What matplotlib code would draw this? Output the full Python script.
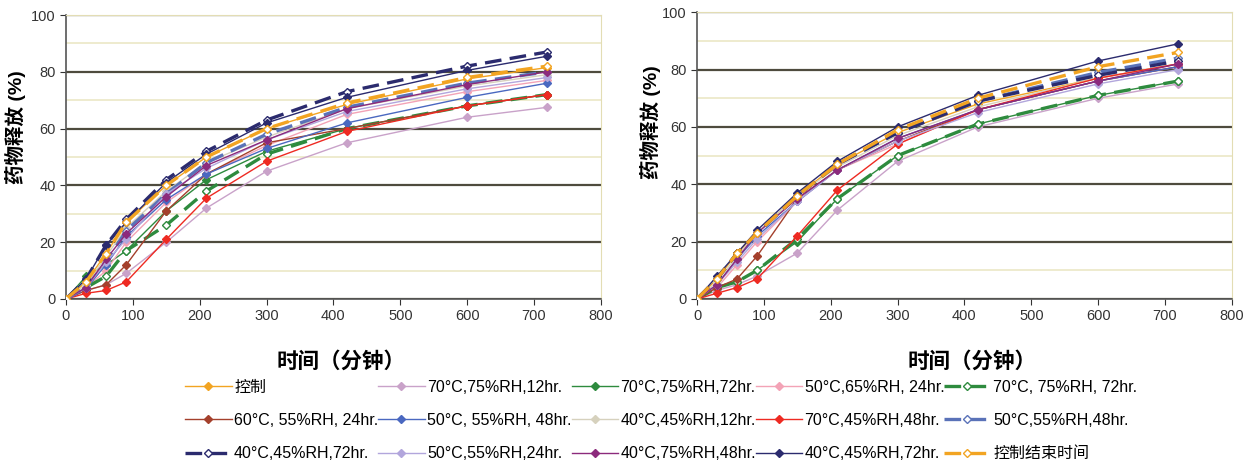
import numpy as np
import matplotlib
matplotlib.use("Agg")
import matplotlib.pyplot as plt
from matplotlib.ticker import MultipleLocator

plt.rcParams["font.family"] = ["Liberation Sans", "Noto Sans CJK SC"]

# ---------------------------------------------------------------------------
# Data: sampling times (min) and % drug released for each storage condition
# ---------------------------------------------------------------------------
times = [0, 30, 60, 90, 150, 210, 300, 420, 600, 720]

labels = [
    "控制",
    "70°C,75%RH,12hr.",
    "70°C,75%RH,72hr.",
    "50°C,65%RH, 24hr.",
    "70°C, 75%RH, 72hr.",
    "60°C, 55%RH, 24hr.",
    "50°C, 55%RH, 48hr.",
    "40°C,45%RH,12hr.",
    "70°C,45%RH,48hr.",
    "50°C,55%RH,48hr.",
    "40°C,45%RH,72hr.",
    "50°C,55%RH,24hr.",
    "40°C,75%RH,48hr.",
    "40°C,45%RH,72hr.",
    "控制结束时间",
]

left_values = [
    [0, 6, 16, 27, 40, 50, 60, 68.5, 77.5, 81.5],   # 控制
    [0, 3, 5, 9, 20, 32, 45, 55, 64, 67.5],          # 70/75/12
    [0, 8, 12, 17, 31, 42, 52, 60, 68, 72],          # 70/75/72
    [0, 4, 10, 20, 34, 44, 54, 65, 73, 77],          # 50/65/24
    [0, 4, 8, 17, 26, 38, 51, 60, 68, 72],           # 70/75/72 dashed
    [0, 3, 5, 12, 31, 44, 55, 60, 68, 72],           # 60/55/24
    [0, 4, 12, 22, 35, 44, 53, 62, 71, 76],          # 50/55/48
    [0, 5, 15, 25, 38, 48, 57, 67, 75, 79],          # 40/45/12
    [0, 2, 3, 6, 21, 35.5, 48.5, 59, 68, 72],        # 70/45/48
    [0, 4, 13, 24, 37, 48, 58, 67.5, 76, 80],        # 50/55/48 dashed
    [0, 7, 19, 28, 42, 52, 63, 73, 82, 87],          # 40/45/72 dashed
    [0, 4, 13, 21, 37, 46, 56, 66, 74, 78],          # 50/55/24
    [0, 4, 14, 23, 36, 47, 56, 67, 75.5, 80],        # 40/75/48
    [0, 7, 19, 27, 41, 51, 62, 71, 80.5, 85.5],      # 40/45/72
    [0, 6, 16, 27, 40, 50, 60, 69, 78, 82],          # 控制结束时间
]

right_values = [
    [0, 7, 16, 23, 36, 47, 58, 68, 77, 82],          # 控制
    [0, 3, 5, 8, 16, 31, 48, 60, 70, 75],            # 70/75/12
    [0, 4, 6, 10, 20, 35, 50, 61, 71, 76],           # 70/75/72
    [0, 4, 12, 20, 34, 45, 54, 66, 76, 81],          # 50/65/24
    [0, 4, 6, 10, 21, 35, 50, 61, 71, 76],           # 70/75/72 dashed
    [0, 4, 7, 15, 35, 45, 55, 66, 76, 81],           # 60/55/24
    [0, 5, 14, 22, 34, 45, 56, 66, 76, 81],          # 50/55/48
    [0, 6, 15, 23, 36, 46, 57, 67, 77, 82],          # 40/45/12
    [0, 2, 4, 7, 22, 38, 54, 66, 77, 82],            # 70/45/48
    [0, 7, 16, 23, 36, 47, 58, 69, 79, 84],          # 50/55/48 dashed
    [0, 7, 16, 23, 36, 47, 58, 69, 78, 83],          # 40/45/72 dashed
    [0, 5, 13, 21, 34, 45, 55, 65, 75, 80],          # 50/55/24
    [0, 5, 14, 23, 35, 45, 56, 66, 76, 82],          # 40/75/48
    [0, 8, 16, 24, 37, 48, 60, 71, 83, 89],          # 40/45/72
    [0, 7, 16, 23, 36, 47, 59, 70, 81, 86],          # 控制结束时间
]

colors = [
    "#f2a422", "#c9a2c9", "#2e8b3e", "#f3a3b6", "#2e8b3e",
    "#a4402c", "#4a68c0", "#d6d1bd", "#ee2a22", "#5a72b8",
    "#2b2b6e", "#b2a6dc", "#8c2a7c", "#2b2b6e", "#f2a422",
]
dashed = [False, False, False, False, True,
          False, False, False, False, True,
          True, False, False, False, True]

fig = plt.figure(figsize=(12.57, 4.66), dpi=100)
ax_l = fig.add_axes([0.0525, 0.3584, 0.4255, 0.6094])
ax_r = fig.add_axes([0.5545, 0.3584, 0.4255, 0.6154])

handles = []
for ax, data in [(ax_l, left_values), (ax_r, right_values)]:
    for i, vals in enumerate(data):
        if dashed[i]:
            h, = ax.plot(times, vals, color=colors[i], lw=2.4, ls=(0, (5, 2.5)),
                         marker="D", ms=4.5, mfc="white", mec=colors[i], mew=1,
                         zorder=3)
        else:
            h, = ax.plot(times, vals, color=colors[i], lw=1.0,
                         marker="D", ms=4.5, mfc=colors[i], mec=colors[i],
                         zorder=3)
        if ax is ax_l:
            handles.append(h)

    ax.set_xlim(0, 800)
    ax.set_ylim(0, 100)
    ax.xaxis.set_major_locator(MultipleLocator(100))
    ax.yaxis.set_major_locator(MultipleLocator(20))
    ax.yaxis.set_minor_locator(MultipleLocator(10))
    ax.grid(True, which="minor", axis="y", color="#ebe7c6", lw=1.2, zorder=0)
    ax.grid(True, which="major", axis="y", color="#4e4b3e", lw=1.6, zorder=1)
    ax.tick_params(axis="both", labelsize=10.5, colors="#333333", length=4)
    ax.tick_params(axis="y", which="minor", length=0)
    for s in ["top", "right"]:
        ax.spines[s].set_color("#e3ddb4")
    for s in ["left", "bottom"]:
        ax.spines[s].set_color("#555555")
        ax.spines[s].set_linewidth(1.2)
    ax.set_ylabel("药物释放 (%)", fontsize=14, fontweight="bold")
    ax.set_xlabel("时间（分钟）", fontsize=15.5, fontweight="bold")
    ax.xaxis.set_label_coords(0.514, -0.185)

ax_l.yaxis.set_label_coords(-0.075, 0.606)
ax_r.yaxis.set_label_coords(-0.067, 0.617)

# legend: 3 rows x 5 columns, filled column-first by matplotlib
order = [0, 5, 10, 1, 6, 11, 2, 7, 12, 3, 8, 13, 4, 9, 14]
fig.legend([handles[i] for i in order], [labels[i] for i in order],
           ncol=5, loc="lower left", bbox_to_anchor=(0.136, -0.021),
           frameon=False, fontsize=11.5, handlelength=2.9, handletextpad=0.15,
           columnspacing=0.0, labelspacing=1.15)

fig.savefig("out.png", dpi=100)
